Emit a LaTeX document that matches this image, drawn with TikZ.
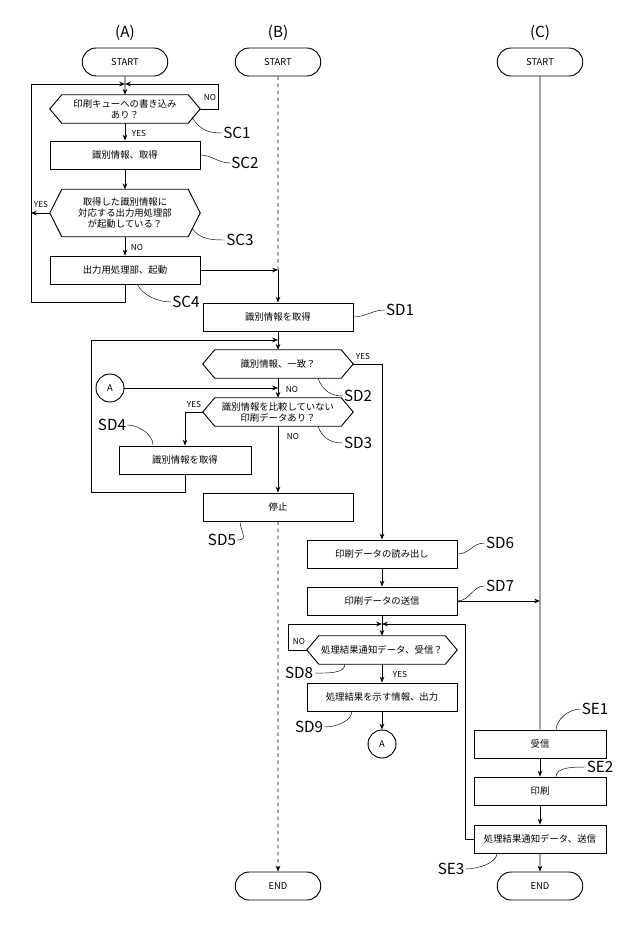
\documentclass[tikz,border=0pt]{standalone}
\usepackage{fontspec}
\setmainfont{Noto Sans CJK JP}
\usetikzlibrary{shapes.misc,calc,arrows.meta}

\tikzset{
	line/.style={thick},
	arr/.style={thick,-{Stealth[length=5pt,width=4pt]}},
	box/.style={draw,thick,rectangle,minimum width=4.5cm,minimum height=0.84cm,font=\fontsize{8}{9.5}\selectfont},
	sbox/.style={box,minimum width=3.96cm},
	term/.style={draw,thick,rounded rectangle,minimum width=2.8cm,minimum height=0.84cm,font=\fontsize{8}{9.5}\selectfont},
	hexlbl/.style={rectangle,minimum width=4.5cm,align=center,inner sep=1pt,font=\fontsize{8}{9.5}\selectfont},
	conn/.style={draw,thick,circle,minimum size=0.84cm,inner sep=0pt,font=\fontsize{8}{9.5}\selectfont},
	yn/.style={font=\fontsize{7}{8}\selectfont,inner sep=1pt},
	steplbl/.style={font=\fontsize{13}{14}\selectfont,inner sep=1pt},
	lead/.style={thin}
}

% hexagonal decision: name, x, y, height, text
\newcommand{\hexbox}[5]{%
	\node[hexlbl,minimum height=#4] (#1) at (#2,#3) {#5};
	\draw[line] ($(#1.north west)+(12,0)$) -- ($(#1.north east)+(-12,0)$) -- (#1.east)
		-- ($(#1.south east)+(-12,0)$) -- ($(#1.south west)+(12,0)$) -- (#1.west) -- cycle;
}

\begin{document}
\begin{tikzpicture}[x=0.03cm,y=-0.03cm]
	\useasboundingbox (0,0) rectangle (640,932);

	% column headings
	\node[steplbl] (hA) at (125,33) {(A)};
	\node[steplbl] (hB) at (278,33) {(B)};
	\node[steplbl] (hC) at (540,33) {(C)};

	% (A)
	\node[term] (starta) at (125,62) {START};
	\coordinate (ja) at (125,84);
	\hexbox{sc1}{125}{109}{0.84cm}{印刷キューへの書き込み\\あり？}
	\node[box] (sc2) at (125,155) {識別情報、取得};
	\hexbox{sc3}{125}{213}{1.41cm}{取得した識別情報に\\対応する出力用処理部\\が起動している？}
	\node[box] (sc4) at (125,270) {出力用処理部、起動};

	\draw[arr] (starta) -- (sc1);
	\draw[arr] (sc1) -- (sc2);
	\draw[arr] (sc2) -- (sc3);
	\draw[arr] (sc3) -- (sc4);
	\draw[arr] (sc1.east) -- (218,109) -- (218,84) -- (ja);
	\draw[arr] (sc4.south) -- (125,302) -- (31,302) -- (31,84) -- (ja);
	\draw[arr] (sc3.west) -- (31,213);
	\node[yn] (ya1) at (210,97) {NO};
	\node[yn] (ya2) at (139,133) {YES};
	\node[yn] (ya3) at (41,204) {YES};
	\node[yn] (ya4) at (137,247) {NO};

	% (B)
	\node[term] (startb) at (278,62) {START};
	\coordinate (jb) at (278,270);
	\node[box] (sd1) at (278,317) {識別情報を取得};
	\coordinate (jd) at (278,340);
	\hexbox{sd2}{278}{364}{0.84cm}{識別情報、一致？}
	\node[conn] (ca1) at (110,388) {A};
	\coordinate (jd2) at (278,388);
	\hexbox{sd3}{278}{412}{0.84cm}{識別情報を比較していない\\印刷データあり？}
	\node[sbox] (sd4) at (185,460) {識別情報を取得};
	\node[box] (sd5) at (278,507) {停止};
	\node[term] (endb) at (278,886) {END};

	\draw[line,dashed] (startb) -- (jb);
	\draw[arr] (sc4.east) -- (jb);
	\draw[arr] (jb) -- (sd1);
	\draw[arr] (sd1) -- (sd2);
	\draw[arr] (sd2) -- (sd3);
	\draw[arr] (ca1) -- (jd2);
	\draw[arr] (sd3) -- (sd5);
	\draw[arr] (sd3.west) -- (185,412) -- (sd4);
	\draw[arr] (sd4.south) -- (185,492) -- (91,492) -- (91,340) -- (jd);
	\draw[arr,dashed] (sd5) -- (endb);
	\node[yn] (yb1) at (363,356) {YES};
	\node[yn] (yb2) at (292,389) {NO};
	\node[yn] (yb3) at (194,404) {YES};
	\node[yn] (yb4) at (293,436) {NO};

	\node[box] (sd6) at (382,554) {印刷データの読み出し};
	\node[box] (sd7) at (382,601) {印刷データの送信};
	\coordinate (je) at (382,624);
	\hexbox{sd8}{382}{650}{0.84cm}{処理結果通知データ、受信？}
	\node[box] (sd9) at (382,697) {処理結果を示す情報、出力};
	\node[conn] (ca2) at (382,744) {A};

	\draw[arr] (sd2.east) -- (382,364) -- (sd6);
	\draw[arr] (sd6) -- (sd7);
	\draw[arr] (sd7) -- (sd8);
	\draw[arr] (sd8) -- (sd9);
	\draw[arr] (sd9) -- (ca2);
	\draw[arr] (sd8.west) -- (288,650) -- (288,624) -- (je);
	\node[yn] (yb5) at (299,641) {NO};
	\node[yn] (yb6) at (400,674) {YES};

	% (C)
	\node[term] (startc) at (540,62) {START};
	\coordinate (jc) at (540,601);
	\node[sbox] (se1) at (540,744) {受信};
	\node[sbox] (se2) at (540,791) {印刷};
	\node[sbox] (se3) at (540,839) {処理結果通知データ、送信};
	\node[term] (endc) at (540,886) {END};

	\draw[line] (startc) -- (jc) -- (se1);
	\draw[arr] (sd7.east) -- (jc);
	\draw[arr] (se1) -- (se2);
	\draw[arr] (se2) -- (se3);
	\draw[arr] (se3) -- (endc);
	\draw[arr] (se3.west) -- (465,839) -- (465,624) -- (je);

	% step labels
	\node[steplbl] (lsc1) at (237,133) {SC1};
	\node[steplbl] (lsc2) at (245,163) {SC2};
	\node[steplbl] (lsc3) at (240,240) {SC3};
	\node[steplbl] (lsc4) at (186,302) {SC4};
	\node[steplbl] (lsd1) at (400,310) {SD1};
	\node[steplbl] (lsd2) at (358,396) {SD2};
	\node[steplbl] (lsd3) at (358,443) {SD3};
	\node[steplbl] (lsd4) at (112,425) {SD4};
	\node[steplbl] (lsd5) at (222,540) {SD5};
	\node[steplbl] (lsd6) at (500,543) {SD6};
	\node[steplbl] (lsd7) at (500,586) {SD7};
	\node[steplbl] (lsd8) at (299,673) {SD8};
	\node[steplbl] (lsd9) at (309,727) {SD9};
	\node[steplbl] (lse1) at (595,709) {SE1};
	\node[steplbl] (lse2) at (600,767) {SE2};
	\node[steplbl] (lse3) at (451,869) {SE3};

	\draw[lead] (192,117) .. controls +(8,14) and +(-12,0) .. (lsc1.west);
	\draw[lead] (200,155) .. controls +(12,0) and +(-12,0) .. (lsc2.west);
	\draw[lead] (192,228) .. controls +(8,12) and +(-12,0) .. (lsc3.west);
	\draw[lead] (137,284) .. controls +(6,12) and +(-12,0) .. (lsc4.west);
	\draw[lead] (sd1.east) .. controls +(12,0) and +(-12,0) .. (lsd1.west);
	\draw[lead] (318,378) .. controls +(4,12) and +(-12,0) .. (lsd2.west);
	\draw[lead] (318,426) .. controls +(4,12) and +(-12,0) .. (lsd3.west);
	\draw[lead] (lsd4.east) .. controls +(12,0) and +(0,-10) .. (153,445);
	\draw[lead] (lsd5.east) .. controls +(12,0) and +(0,10) .. (240,521);
	\draw[lead] (sd6.east) .. controls +(12,0) and +(-12,0) .. (lsd6.west);
	\draw[lead] (sd7.east) .. controls +(12,0) and +(-12,0) .. (lsd7.west);
	\draw[lead] (lsd8.east) .. controls +(12,0) and +(0,10) .. (345,664);
	\draw[lead] (lsd9.east) .. controls +(12,0) and +(0,10) .. (352,711);
	\draw[lead] (556,730) .. controls +(0,-10) and +(-12,0) .. (lse1.west);
	\draw[lead] (556,777) .. controls +(0,-10) and +(-12,0) .. (lse2.west);
	\draw[lead] (lse3.east) .. controls +(12,0) and +(0,10) .. (497,853);
\end{tikzpicture}
\end{document}
